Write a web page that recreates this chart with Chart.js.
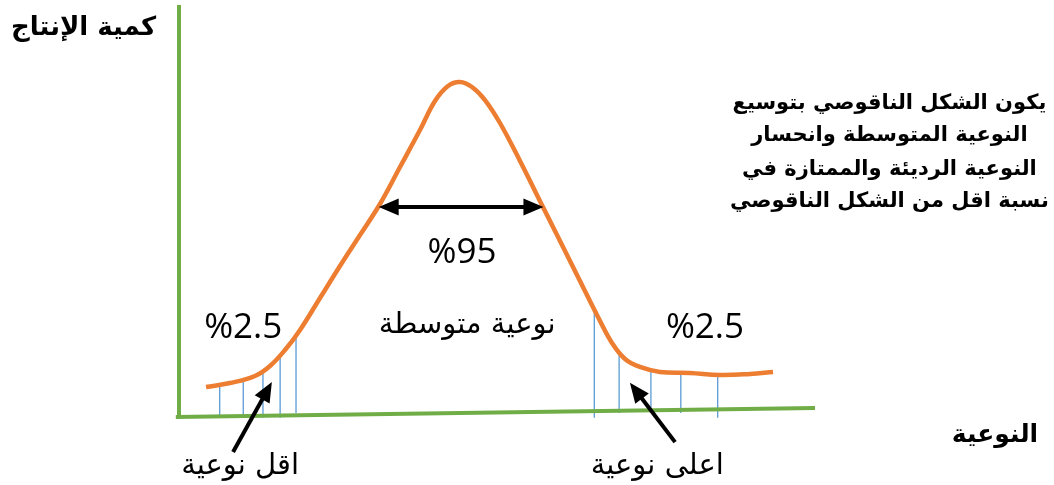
<!DOCTYPE html>
<html>
<head>
<meta charset="utf-8">
<script src="https://cdn.jsdelivr.net/npm/chart.js@4"></script>
<style>
  body { margin: 0; background: #fff; }
  #wrap { width: 1054px; height: 485px; }
</style>
</head>
<body>
<div id="wrap"><canvas id="bellChart"></canvas></div>
<script>
// bell curve (quality on x, production amount on y)
const curveX = [4.25, 8.02, 11.95, 14.31, 16.67, 19.03, 22.17, 25.31, 28.46, 31.60, 34.75, 37.89, 40.25, 42.30, 44.18, 46.07, 48.11, 50.47, 53.62, 57.23, 59.91, 63.05, 65.88, 68.08, 70.13, 72.48, 75.63, 80.35, 85.06, 89.78, 93.40];
const curveY = [7.28, 8.25, 9.95, 12.38, 16.26, 21.12, 28.88, 36.65, 44.17, 51.70, 60.68, 69.66, 76.70, 80.34, 81.31, 80.10, 76.94, 71.36, 62.14, 50.97, 42.72, 33.01, 24.27, 17.96, 14.08, 12.14, 10.92, 10.68, 10.19, 10.44, 10.92];

// thin blue lines under both tails
const dropX = [6.4, 10.1, 13.2, 15.9, 18.4, 65.3, 69.2, 74.2, 78.9, 84.7];
const dropTop = [7.8, 9.0, 11.2, 14.8, 20.0, 25.6, 15.8, 11.4, 10.7, 10.2];
const dropBottom = [-0.2, -0.2, -0.2, -0.2, 1.0, -0.2, 1.0, 1.0, 1.0, -0.2];

// green axes
const xAxisLine = [{ x: -0.5, y: 0 }, { x: 100, y: 2.2 }];
const yAxisLine = [{ x: 0, y: 0 }, { x: 0, y: 100 }];

// arrows [x1, y1, x2, y2]
const midArrow = [31.4, 51.0, 57.3, 51.0];
const lowArrow = [8.5, -8.5, 14.6, 8.5];
const highArrow = [78.0, -6.1, 70.9, 8.3];

const labels = [
  { text: "%95", x: 44.5, y: 39.8, font: "35px 'Open Sans'" },
  { text: "%2.5", x: 10.1, y: 21.6, font: "35px 'Open Sans'" },
  { text: "%2.5", x: 82.7, y: 21.6, font: "35px 'Open Sans'" },
  { text: "نوعية متوسطة", x: 45.3, y: 22.3, font: "29px 'DejaVu Sans'" },
  { text: "اقل نوعية", x: 9.6, y: -12.1, font: "29px 'DejaVu Sans'" },
  { text: "اعلى نوعية", x: 75.2, y: -12.1, font: "29px 'DejaVu Sans'" },
  { text: "كمية الإنتاج", x: -15.0, y: 94.4, font: "bold 26px 'DejaVu Sans'" },
  { text: "النوعية", x: 128.3, y: -4.6, font: "bold 25px 'DejaVu Sans'" },
];

const noteLines = [
  "يكون الشكل الناقوصي بتوسيع",
  "النوعية المتوسطة وانحسار",
  "النوعية الرديئة والممتازة في",
  "نسبة اقل من الشكل الناقوصي",
];
const noteY = [76.2, 68.4, 60.0, 52.2];
const noteX = 111.7;

const curveData = curveX.map((x, i) => ({ x: x, y: curveY[i] }));

function drawArrow(ctx, xs, ys, a, both) {
  const x1 = xs.getPixelForValue(a[0]);
  const y1 = ys.getPixelForValue(a[1]);
  const x2 = xs.getPixelForValue(a[2]);
  const y2 = ys.getPixelForValue(a[3]);
  const ang = Math.atan2(y2 - y1, x2 - x1);
  const len = 20, half = 8.5;

  ctx.save();
  ctx.strokeStyle = "#000";
  ctx.fillStyle = "#000";
  ctx.lineWidth = 4;
  ctx.beginPath();
  const sx = both ? x1 + Math.cos(ang) * len * 0.8 : x1;
  const sy = both ? y1 + Math.sin(ang) * len * 0.8 : y1;
  ctx.moveTo(sx, sy);
  ctx.lineTo(x2 - Math.cos(ang) * len * 0.8, y2 - Math.sin(ang) * len * 0.8);
  ctx.stroke();

  const heads = both ? [[x2, y2, ang], [x1, y1, ang + Math.PI]] : [[x2, y2, ang]];
  heads.forEach(([hx, hy, a2]) => {
    ctx.beginPath();
    ctx.moveTo(hx, hy);
    ctx.lineTo(hx - Math.cos(a2) * len - Math.sin(a2) * half, hy - Math.sin(a2) * len + Math.cos(a2) * half);
    ctx.lineTo(hx - Math.cos(a2) * len + Math.sin(a2) * half, hy - Math.sin(a2) * len - Math.cos(a2) * half);
    ctx.closePath();
    ctx.fill();
  });
  ctx.restore();
}

const extrasPlugin = {
  id: "extras",
  beforeDatasetsDraw(chart) {
    const ctx = chart.ctx;
    const xs = chart.scales.x;
    const ys = chart.scales.y;
    ctx.save();
    ctx.strokeStyle = "#5B9BD5";
    ctx.lineWidth = 1.3;
    dropX.forEach((x, i) => {
      const px = xs.getPixelForValue(x);
      ctx.beginPath();
      ctx.moveTo(px, ys.getPixelForValue(dropTop[i]));
      ctx.lineTo(px, ys.getPixelForValue(dropBottom[i]));
      ctx.stroke();
    });
    ctx.restore();
  },
  afterDatasetsDraw(chart) {
    const ctx = chart.ctx;
    const xs = chart.scales.x;
    const ys = chart.scales.y;

    drawArrow(ctx, xs, ys, midArrow, true);
    drawArrow(ctx, xs, ys, lowArrow, false);
    drawArrow(ctx, xs, ys, highArrow, false);

    ctx.save();
    ctx.fillStyle = "#000";
    ctx.textAlign = "center";
    ctx.textBaseline = "middle";
    labels.forEach((l) => {
      ctx.font = l.font;
      ctx.fillText(l.text, xs.getPixelForValue(l.x), ys.getPixelForValue(l.y));
    });
    ctx.font = "bold 21px 'DejaVu Sans'";
    noteLines.forEach((t, i) => {
      ctx.fillText(t, xs.getPixelForValue(noteX), ys.getPixelForValue(noteY[i]));
    });
    ctx.restore();
  },
};

const chart = new Chart(document.getElementById("bellChart"), {
  type: "line",
  data: {
    datasets: [
      {
        data: curveData,
        borderColor: "#ED7D31",
        borderWidth: 4.5,
        pointRadius: 0,
        tension: 0.4,
        fill: false,
        clip: false,
        order: 1,
      },
      {
        data: xAxisLine,
        borderColor: "#70AD47",
        borderWidth: 4,
        pointRadius: 0,
        clip: false,
        order: 2,
      },
      {
        data: yAxisLine,
        borderColor: "#70AD47",
        borderWidth: 4,
        pointRadius: 0,
        clip: false,
        order: 2,
      },
    ],
  },
  options: {
    responsive: true,
    maintainAspectRatio: false,
    animation: false,
    layout: { padding: { left: 179, right: 239, top: 5, bottom: 68 } },
    plugins: { legend: { display: false }, tooltip: { enabled: false } },
    scales: {
      x: { type: "linear", min: 0, max: 100, display: false },
      y: { type: "linear", min: 0, max: 100, display: false },
    },
  },
  plugins: [extrasPlugin],
});
</script>
</body>
</html>
